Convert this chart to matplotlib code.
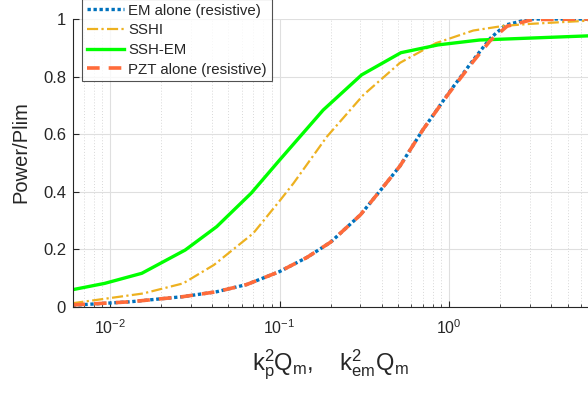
import matplotlib
matplotlib.use("Agg")
import matplotlib.pyplot as plt
from matplotlib.ticker import LogLocator, NullFormatter, FixedLocator

plt.rcParams['font.family'] = ['Liberation Sans', 'DejaVu Sans']
plt.rcParams['mathtext.fontset'] = 'custom'
plt.rcParams['mathtext.rm'] = 'Liberation Sans'
plt.rcParams['mathtext.it'] = 'Liberation Sans'

# Data
x_em = [0.006, 0.0131, 0.027, 0.0426, 0.064, 0.1, 0.145, 0.2, 0.3, 0.4, 0.514, 0.7, 1.0, 1.39, 1.75, 2.15, 3.0, 7.0]
y_em = [0.006, 0.018, 0.036, 0.053, 0.078, 0.123, 0.172, 0.225, 0.32, 0.41, 0.49, 0.615, 0.745, 0.858, 0.933, 0.979, 1.0, 1.0]

x_pzt = [0.006, 0.0131, 0.027, 0.0426, 0.064, 0.1, 0.145, 0.2, 0.3, 0.4, 0.514, 0.7, 1.0, 1.39, 1.75, 2.2, 3.1, 7.0]
y_pzt = [0.007, 0.018, 0.036, 0.053, 0.078, 0.123, 0.172, 0.225, 0.32, 0.41, 0.49, 0.615, 0.743, 0.853, 0.925, 0.975, 0.998, 1.0]

x_sshi = [0.006, 0.0157, 0.027, 0.041, 0.07, 0.1, 0.121, 0.19, 0.312, 0.514, 0.835, 1.39, 2.09, 3.0, 7.0]
y_sshi = [0.013, 0.047, 0.082, 0.146, 0.256, 0.368, 0.43, 0.591, 0.736, 0.848, 0.916, 0.96, 0.976, 0.983, 0.995]

x_sshem = [0.006, 0.0093, 0.0154, 0.0278, 0.0426, 0.068, 0.1, 0.181, 0.305, 0.52, 0.86, 1.51, 7.0]
y_sshem = [0.060, 0.082, 0.117, 0.198, 0.279, 0.395, 0.51, 0.684, 0.806, 0.883, 0.91, 0.927, 0.942]

yticks = [0, 0.2, 0.4, 0.6, 0.8, 1]
ytick_labels = ['0', '0.2', '0.4', '0.6', '0.8', '1']
xticks = [0.01, 0.1, 1]
xtick_labels = [r'$10^{-2}$', r'$10^{-1}$', r'$10^{0}$']

fig = plt.figure(figsize=(5.88, 3.95), dpi=100)
ax = fig.add_axes([73/588, 88/395, 515/588, 288/395])

ax.plot(x_em, y_em, color='#0072BD', linestyle=(0, (1, 0.8)), linewidth=2.4, label='EM alone (resistive)')
ax.plot(x_sshi, y_sshi, color='#EDB120', linestyle=(0, (5, 1.5, 1, 1.5)), linewidth=1.6, label='SSHI')
ax.plot(x_sshem, y_sshem, color='#00FF00', linestyle='-', linewidth=2.4, label='SSH-EM')
ax.plot(x_pzt, y_pzt, color='#FF6B3A', linestyle=(0, (3.5, 2.5)), linewidth=2.6, label='PZT alone (resistive)')

ax.set_xscale('log')
ax.set_xlim(0.00605, 6.6)
ax.set_ylim(0, 1)

ax.xaxis.set_major_locator(FixedLocator(xticks))
ax.set_xticklabels(xtick_labels)
ax.xaxis.set_minor_locator(LogLocator(base=10, subs=range(2, 10), numticks=20))
ax.xaxis.set_minor_formatter(NullFormatter())
ax.set_yticks(yticks)
ax.set_yticklabels(ytick_labels)

ax.grid(True, which='major', color='#DFDFDF', linewidth=0.8, linestyle='-')
ax.grid(True, which='minor', axis='x', color='#D8D8D8', linewidth=0.7, linestyle=(0, (1, 2)))
ax.set_axisbelow(True)

for s in ['top', 'right']:
    ax.spines[s].set_visible(False)
for s in ['left', 'bottom']:
    ax.spines[s].set_color('#262626')
    ax.spines[s].set_linewidth(0.8)

ax.tick_params(axis='both', which='both', direction='in', colors='#262626', top=False, right=False)
ax.tick_params(axis='y', labelsize=12)
ax.tick_params(axis='x', labelsize=11.5)
ax.tick_params(axis='both', which='major', length=4)
ax.tick_params(axis='x', which='minor', length=2.5)
ax.tick_params(axis='x', which='major', pad=8)
ax.tick_params(axis='y', which='major', pad=5)

ax.set_ylabel('Power/Plim', fontsize=14.5, color='#262626')
ax.yaxis.set_label_coords(-0.082, 0.538)
ax.set_xlabel(r'k$_\mathregular{p}^\mathregular{2}$Q$_\mathregular{m}$,    k$_\mathregular{em}^\mathregular{2}$Q$_\mathregular{m}$',
              fontsize=17, color='#262626', labelpad=8)

leg = ax.legend(loc='upper left', bbox_to_anchor=(82/588, 1.0 + 1/395), bbox_transform=fig.transFigure,
                fontsize=10.8, frameon=True, fancybox=False, borderpad=0.3, labelspacing=0.38,
                handlelength=2.5, handletextpad=0.3, borderaxespad=0)
leg.get_frame().set_edgecolor('#262626')
leg.get_frame().set_linewidth(0.8)
for t in leg.get_texts():
    t.set_color('#262626')

fig.savefig('out.png', dpi=100)
